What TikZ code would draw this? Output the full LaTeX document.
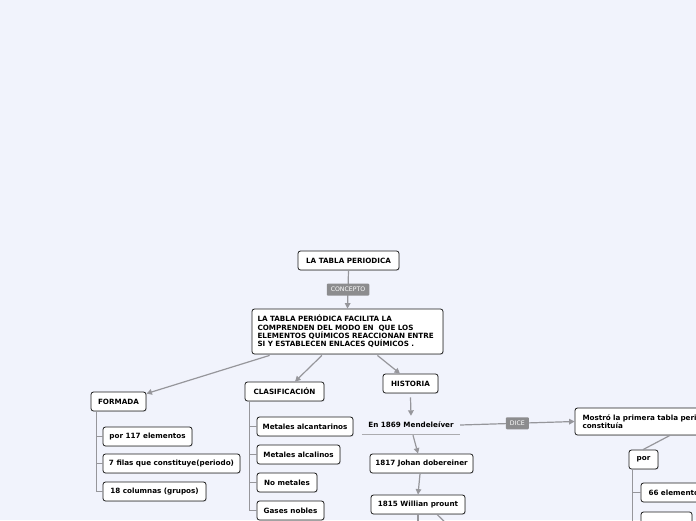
\documentclass[tikz,border=0pt]{standalone}
\usepackage{fontspec}
\setmainfont{DejaVu Sans}
\usetikzlibrary{arrows.meta,shadows}
\definecolor{bg}{RGB}{241,243,252}
\definecolor{conn}{RGB}{150,150,155}
\definecolor{lblfill}{RGB}{140,140,142}
\definecolor{edge}{RGB}{30,30,30}
\tikzset{
  topic/.style={draw=edge, fill=white, rounded corners=2.5pt, line width=0.8pt,
    font=\fontsize{7.2}{8.3}\selectfont\bfseries, inner sep=0pt, minimum height=19pt,
    drop shadow={opacity=0.18, shadow xshift=0.8pt, shadow yshift=-0.8pt}},
  plain/.style={font=\fontsize{7.2}{8.3}\selectfont\bfseries, inner sep=0pt},
  lbl/.style={fill=lblfill, text=white, rounded corners=1pt, inner xsep=4pt, inner ysep=2pt,
    font=\fontsize{6.2}{7}\selectfont, minimum height=12pt},
  link/.style={draw=conn, line width=1.2pt},
  arr/.style={link, -{Triangle[length=5.5pt,width=5.5pt]}},
}
\begin{document}
\begin{tikzpicture}[x=1pt,y=-1pt]
\useasboundingbox (0,0) rectangle (696,520);
\fill[bg] (0,0) rectangle (696,520);
\clip (0,0) rectangle (696,520);

% nodes
\node[topic, minimum width=191pt, minimum height=45pt, text width=180pt, align=left] (main) at (347.5,331.5)
  {\hyphenpenalty=10000 LA TABLA PERIÓDICA FACILITA LA\\COMPRENDEN DEL MODO EN~ QUE LOS\\ELEMENTOS QUÍMICOS REACCIONAN ENTRE\\SI Y ESTABLECEN ENLACES QUÍMICOS .};
\node[topic, minimum width=101pt] (title) at (348.5,260.5) {LA TABLA PERIODICA};
\node[topic, minimum width=55pt] (formada) at (118.5,401.5) {FORMADA};
\node[topic, minimum width=79pt] (clasif) at (284.5,391.5) {CLASIFICACIÓN};
\node[topic, minimum width=55pt] (historia) at (410.5,383.5) {HISTORIA};

\node[topic, minimum width=89pt] (f1) at (147.5,436.5) {por 117 elementos};
\node[topic, minimum width=137pt] (f2) at (171.5,463.5) {7 filas que constituye(periodo)};
\node[topic, minimum width=103pt] (f3) at (154.5,491.5) {18 columnas (grupos)};

\node[topic, minimum width=96pt] (c1) at (305,426.5) {Metales alcantarinos};
\node[topic, minimum width=83pt] (c2) at (298.5,454.5) {Metales alcalinos};
\node[topic, minimum width=60pt] (c3) at (287,482.5) {No metales};
\node[topic, minimum width=67pt] (c4) at (290.5,510.5) {Gases nobles};

\node[plain, minimum width=98pt, minimum height=18pt] (mend) at (411,425) {En 1869 Mendeleíver};
\node[topic, minimum width=103pt] (j1817) at (421.5,463.5) {1817 Johan dobereiner};
\node[topic, minimum width=94pt] (w1815) at (418,504.5) {1815 Willian prount};

\node[topic, minimum width=155pt, minimum height=27pt, text width=140pt, align=left] (mostro) at (652.5,421.5)
  {Mostró la primera tabla periódica\\constituía};
\node[topic, minimum width=29pt] (por) at (643.5,459.5) {por};
\node[topic, minimum width=79pt, text width=64pt, align=left] (e66) at (680.5,492.5) {66 elementos};
\node[topic, minimum width=51pt] (e2) at (666.5,521.5) {};

\coordinate (out1) at (418,530);
\coordinate (out2) at (453,530);

% connectors
\draw[arr] (title.south) -- node[lbl] {CONCEPTO} (main.north);
\draw[arr] ([xshift=18pt,yshift=-1pt]main.south west) -- ([yshift=-2pt]formada.north east);
\draw[arr] ([xshift=-121.5pt,yshift=-1pt]main.south east) -- ([xshift=10.5pt]clasif.north);
\draw[arr] ([xshift=-66pt,yshift=-1pt]main.south east) -- ([xshift=-10.5pt]historia.north);
\draw[arr] ([yshift=-4pt]historia.south) -- (mend.north);
\draw[draw=conn!80, line width=1.2pt] (mend.south west) -- (mend.south east);
\draw[arr] ([xshift=2pt,yshift=-1pt]mend.south) -- ([xshift=-3.5pt]j1817.north);
\draw[arr] ([xshift=-1.5pt,yshift=-0.5pt]j1817.south) -- (w1815.north);
\draw[link] (w1815.south) -- (out1);
\draw[link] ([xshift=19pt]w1815.south) -- (out2);
\draw[arr] (mend.east) -- node[lbl] {DICE} (mostro.west);
\draw[link] ([xshift=17.5pt]mostro.south) -- ([xshift=-0.5pt]por.north);

% tree lines
\draw[link] ([xshift=6pt]formada.south west) |- (f1.west);
\draw[link] ([xshift=6pt]formada.south west) |- (f2.west);
\draw[link] ([xshift=6pt]formada.south west) |- (f3.west);
\draw[link] ([xshift=5pt]clasif.south west) |- (c1.west);
\draw[link] ([xshift=5pt]clasif.south west) |- (c2.west);
\draw[link] ([xshift=5pt]clasif.south west) |- (c3.west);
\draw[link] ([xshift=5pt]clasif.south west) |- (c4.west);
\draw[link] ([xshift=4pt]por.south west) |- (e66.west);
\draw[link] ([xshift=4pt]por.south west) |- (e2.west);
\end{tikzpicture}
\end{document}
